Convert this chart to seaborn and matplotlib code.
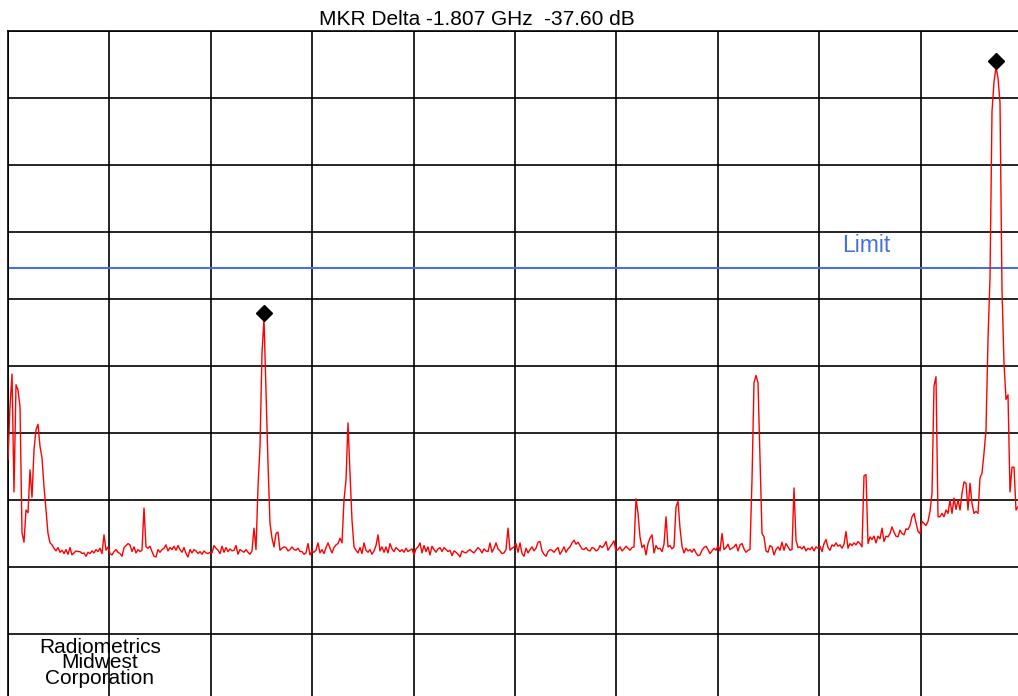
import numpy as np
import pandas as pd
import matplotlib
matplotlib.use("Agg")
import matplotlib.pyplot as plt
import matplotlib.transforms as mtransforms
import seaborn as sns

# ---------------- data ----------------
title_text = "MKR Delta -1.807 GHz  -37.60 dB"
company_lines = ["Radiometrics", "Midwest", "Corporation"]
limit_label = "Limit"

f_start_ghz = 1.0
f_stop_ghz = 3.5
freq_div_ghz = 0.25
ref_bottom_db = 0.0
ref_top_db = 100.0
db_div = 10.0
limit_db = 64.6

# measured trace (dB), equally spaced sweep points from f_start to f_stop
trace_db = [
    36.0, 44.0, 48.8, 31.2, 47.2, 46.4, 44.0, 25.1, 23.7, 28.5,
    28.1, 34.5, 30.4, 37.5, 40.5, 41.3, 38.0, 36.3, 32.0, 28.5,
    25.0, 23.6, 23.3, 22.8, 22.4, 22.9, 22.2, 22.5, 22.0, 22.6,
    21.9, 22.9, 21.8, 22.1, 22.4, 22.3, 22.3, 22.0, 22.1, 21.6,
    22.2, 22.0, 22.4, 22.1, 22.6, 22.3, 22.8, 22.0, 24.8, 22.5,
    23.0, 22.0, 21.8, 22.3, 22.6, 22.2, 22.0, 21.6, 22.9, 23.2,
    23.5, 23.3, 22.3, 23.0, 22.1, 22.6, 22.3, 22.5, 28.8, 23.0,
    22.8, 23.1, 22.3, 21.6, 21.5, 22.6, 22.2, 22.6, 22.8, 23.3,
    22.4, 22.9, 22.6, 23.1, 22.5, 23.2, 22.6, 22.2, 22.9, 22.0,
    21.5, 22.6, 22.1, 22.6, 22.4, 22.0, 22.3, 21.9, 22.4, 22.1,
    22.0, 22.2, 22.1, 23.2, 22.8, 22.5, 22.0, 23.1, 22.2, 22.9,
    22.3, 22.7, 22.4, 22.5, 23.2, 21.9, 22.6, 22.4, 22.2, 22.6,
    22.2, 21.9, 22.4, 25.8, 22.6, 32.0, 38.0, 52.0, 57.0, 46.4,
    35.5, 26.5, 24.3, 23.0, 25.0, 25.2, 22.5, 22.8, 23.0, 22.9,
    22.4, 22.6, 23.0, 22.6, 22.5, 22.8, 22.3, 22.3, 21.9, 22.1,
    23.5, 21.8, 22.4, 22.2, 22.5, 23.6, 22.1, 22.6, 22.0, 22.9,
    23.6, 22.8, 22.1, 22.9, 23.3, 23.5, 24.3, 23.6, 30.0, 33.0,
    41.5, 34.0, 27.0, 23.0, 22.5, 22.1, 22.9, 22.0, 23.6, 22.5,
    22.2, 22.6, 21.9, 22.4, 23.2, 24.8, 22.4, 23.0, 22.2, 23.0,
    22.1, 23.5, 22.7, 22.3, 22.9, 22.6, 22.3, 22.6, 22.2, 22.8,
    22.3, 22.5, 22.7, 21.8, 22.7, 23.0, 23.6, 22.1, 23.2, 22.3,
    23.0, 21.8, 23.1, 22.6, 22.2, 22.7, 22.9, 22.3, 22.9, 22.6,
    22.3, 22.5, 21.7, 22.4, 22.2, 21.9, 21.5, 22.4, 22.2, 22.1,
    22.4, 22.6, 22.3, 22.1, 22.5, 22.9, 22.6, 22.1, 22.7, 22.4,
    22.3, 23.6, 22.2, 22.8, 23.6, 22.7, 22.4, 22.0, 22.1, 22.6,
    25.8, 22.5, 22.8, 23.0, 23.5, 22.2, 23.6, 22.0, 21.6, 22.8,
    22.1, 22.6, 23.0, 22.4, 22.8, 23.7, 23.8, 22.4, 21.9, 21.6,
    22.3, 22.6, 22.5, 22.2, 22.6, 22.9, 21.9, 22.4, 23.0, 22.2,
    22.7, 23.0, 23.6, 24.0, 23.4, 23.7, 23.2, 22.7, 22.6, 22.9,
    22.5, 22.4, 22.9, 22.8, 22.4, 22.6, 23.2, 22.9, 23.2, 23.8,
    22.5, 23.0, 23.4, 23.9, 22.4, 22.6, 23.0, 22.4, 22.7, 23.1,
    22.8, 22.5, 22.9, 23.0, 30.2, 28.0, 24.5, 22.9, 23.3, 21.8,
    23.5, 24.3, 24.8, 22.1, 23.2, 22.7, 22.8, 22.3, 23.4, 27.5,
    23.0, 23.2, 22.7, 23.0, 29.0, 29.8, 25.8, 23.1, 22.1, 22.8,
    22.4, 22.6, 22.2, 22.7, 22.1, 21.7, 21.8, 22.5, 22.9, 23.1,
    22.6, 22.0, 22.4, 22.8, 22.5, 23.2, 22.4, 25.0, 22.6, 22.9,
    23.4, 22.6, 22.8, 23.0, 23.4, 22.4, 23.3, 23.5, 22.7, 22.2,
    22.5, 22.6, 33.0, 47.5, 48.6, 47.5, 36.0, 25.0, 24.5, 22.4,
    22.2, 23.2, 23.0, 21.8, 22.6, 23.0, 22.5, 23.7, 22.5, 23.5,
    23.0, 22.5, 22.6, 31.8, 24.0, 22.9, 23.0, 22.7, 23.1, 22.4,
    22.8, 22.6, 23.0, 22.4, 23.0, 22.8, 23.1, 22.3, 23.5, 24.1,
    22.9, 22.5, 23.3, 23.1, 23.6, 23.1, 23.3, 22.8, 23.4, 25.3,
    22.8, 23.5, 23.2, 23.6, 23.3, 23.8, 23.5, 23.0, 33.6, 33.8,
    23.5, 24.5, 24.1, 24.6, 23.6, 24.6, 24.2, 25.8, 23.8, 24.6,
    24.5, 25.0, 26.0, 25.2, 24.6, 24.5, 25.5, 25.0, 24.8, 25.7,
    25.6, 26.2, 27.5, 28.0, 26.6, 25.3, 25.0, 26.8, 26.5, 26.2,
    26.8, 28.3, 31.0, 47.0, 48.4, 27.5, 27.5, 28.0, 27.5, 28.5,
    28.0, 30.0, 28.0, 30.3, 28.6, 30.0, 28.5, 31.0, 32.7, 32.5,
    28.5, 32.5, 29.5, 28.0, 28.3, 28.0, 33.3, 34.0, 37.0, 40.4,
    54.0, 63.1, 88.0, 92.4, 94.6, 93.0, 89.3, 61.3, 50.4, 45.0,
    45.7, 31.2, 34.9, 34.9, 28.5, 29.0, 28.5, 28.0,
]

# marker frequencies (GHz)
marker_freqs_ghz = [1.629, 3.436]

# ---------------- plot ----------------
sns.set_style("white")
plt.rcParams["font.family"] = ["Liberation Sans", "DejaVu Sans"]

freq = np.linspace(f_start_ghz, f_stop_ghz, len(trace_db))
df = pd.DataFrame({"freq": freq, "level": trace_db})

fig = plt.figure(figsize=(10.18, 6.96), dpi=100)
ax = fig.add_axes([8 / 1018, -5 / 696, 1014 / 1018, 670 / 696])

sns.lineplot(data=df, x="freq", y="level", ax=ax, color="#ff0000",
             linewidth=1.0, zorder=3)

# limit line
ax.axhline(limit_db, color="#4470e0", linewidth=1.5, zorder=2)
ax.text(3.056, 67.0, limit_label, color="#4470e0", fontsize=16.5,
        ha="left", va="baseline")

# markers (diamonds just above the peak)
mk_idx = [int(np.abs(freq - f).argmin()) for f in marker_freqs_ghz]
mk_x = freq[mk_idx]
mk_y = np.asarray(trace_db)[mk_idx]
offset = mtransforms.ScaledTranslation(0, 4.3 / 72, fig.dpi_scale_trans)
ax.plot(mk_x, mk_y, linestyle="none", marker="D", markersize=8,
        color="black", transform=ax.transData + offset, zorder=4,
        clip_on=False)

ax.set_xlim(f_start_ghz, f_stop_ghz)
ax.set_ylim(ref_bottom_db, ref_top_db)
ax.set_xticks(np.arange(f_start_ghz, f_stop_ghz + 1e-9, freq_div_ghz))
ax.set_yticks(np.arange(ref_bottom_db, ref_top_db + 1e-9, db_div))
ax.grid(True, color="black", linewidth=1.2, zorder=1)
ax.set_axisbelow(True)
ax.tick_params(length=0, labelbottom=False, labelleft=False)
ax.set_xlabel("")
ax.set_ylabel("")
for s in ax.spines.values():
    s.set_color("black")
    s.set_linewidth(1.2)

# company text (one block, tight line spacing; anchored on last baseline)
ax.text(1.2268, 2.55, "\n".join(company_lines), fontsize=15, ha="center",
        va="baseline", multialignment="center", linespacing=0.77,
        color="black")

fig.text(477 / 1018, (696 - 25) / 696, title_text, fontsize=15,
         ha="center", va="baseline", color="black")

fig.savefig("out.png", dpi=100)
